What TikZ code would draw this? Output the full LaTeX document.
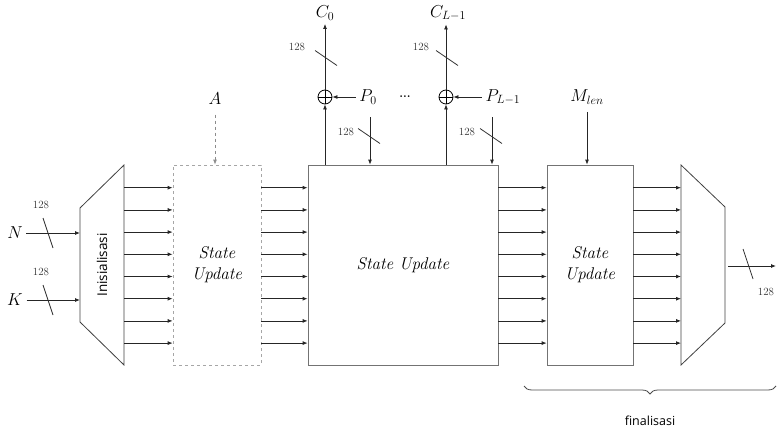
\documentclass[tikz,border=0pt]{standalone}
\usepackage{fontspec}
\newfontfamily\sansf{Open Sans}
\usetikzlibrary{arrows.meta,decorations.pathreplacing}

\tikzset{
  flecha/.style={-{Latex[length=5pt,width=4pt]}, black!85},
  bloque/.style={draw=black!55, fill=white, minimum width=#1, minimum height=200,
                 inner sep=0pt, align=center, font=\fontsize{17}{21}\selectfont\itshape},
  trapecio/.style={draw=black!75, line join=miter},
  xor/.style={draw, circle, minimum size=14, inner sep=0pt,
              path picture={\draw (path picture bounding box.north) -- (path picture bounding box.south)
                                  (path picture bounding box.west) -- (path picture bounding box.east);}},
  bits/.style={font=\fontsize{11}{12}\selectfont, inner sep=0pt, black!80}
}
% marcas de bus (128 bits)
\newcommand{\corteh}[2]{\draw[black!80] (#1-5,#2-15) -- (#1+5,#2+15);}
\newcommand{\cortev}[2]{\draw[black!80] (#1-11,#2-7.5) -- (#1+11,#2+7.5);}

\begin{document}
\begin{tikzpicture}[x=1pt, y=-1pt, line width=0.8pt, font=\fontsize{17}{19}\selectfont]
  \useasboundingbox (0,0) rectangle (784,436);

  % bloques
  \draw[trapecio] (80,208) -- (124,165) -- (124,365) -- (80,322) -- cycle;
  \coordinate (iniL) at (80,265);
  \coordinate (iniR) at (124,265);
  \node[rotate=90, font=\sansf\fontsize{13.5}{15}\selectfont] (ini) at (102,265) {Inisialisasi};
  \node[bloque=88, draw=black!35, dashed] (su1) at (217,265) {State\\Update};
  \node[bloque=190] (su2) at (403,265) {State Update};
  \node[bloque=86] (su3) at (590,265) {State\\Update};
  \draw[trapecio] (681,165) -- (725,207) -- (725,323) -- (681,365) -- cycle;
  \coordinate (finL) at (681,265);
  \coordinate (finR) at (725,266);

  % buses internos
  \foreach \a/\b in {iniR/su1.west, su1.east/su2.west, su2.east/su3.west, su3.east/finL}
    \foreach \k in {0,...,7}{
      \pgfmathsetmacro\yy{187.7+22.2*\k}
      \draw[flecha] (\a |- 0,\yy) -- (\b |- 0,\yy);
    }

  % entradas N y K
  \foreach \n/\py in {N/233, K/300}{
    \node (\n) at (15,\py) {$\n$};
    \draw[flecha] (\n.east) -- (\n.east -| iniL);
    \corteh{48}{\py}
    \node[bits] (b\n) at (41,\py-28) {128};
  }

  % dato asociado
  \node (A) at (215,99) {$A$};
  \draw[flecha, dashed, black!45] (A.south) ++(0,6) -- (A |- su1.north);

  % cifrado
  \node[xor] (x0) at (325,97) {};
  \node[xor] (x1) at (446,97) {};
  \node (C0) at (325,13) {$C_0$};
  \node (C1) at (448,13) {$C_{L-1}$};
  \node (P0) at (368,97) {$P_0$};
  \node (P1) at (503,97) {$P_{L-1}$};
  \node[font=\fontsize{12}{14}\bfseries] (pts) at (405,97) {...};
  \coordinate (p0in) at (370,117);
  \coordinate (p1in) at (492,117);
  \foreach \x/\c/\p/\e in {x0/C0/P0/p0in, x1/C1/P1/p1in}{
    \draw[flecha] (su2.north -| \x) -- (\x.south);
    \draw[flecha] (\x.north) -- (\x |- \c.south);
    \draw[flecha] (\p.west) -- (\x.east);
    \draw[flecha] (\e) -- (\e |- su2.north);
  }
  \cortev{326}{58} \cortev{447}{58}
  \cortev{369}{136} \cortev{491}{136}
  \node[bits] (b1) at (297,47) {128};
  \node[bits] (b2) at (421,47) {128};
  \node[bits] (b3) at (346,132) {128};
  \node[bits] (b4) at (467,132) {128};

  % longitud del mensaje
  \node (M) at (587,97) {$M_{len}$};
  \draw[flecha] (M.south) ++(0,4) -- (M.south |- su3.north);

  % salida
  \coordinate (sal) at (776,266);
  \draw[flecha] (finR) ++(3,0) -- (sal);
  \corteh{748}{264}
  \node[bits] (b5) at (766,292) {128};

  % finalisasi
  \draw[black!70, decorate, decoration={brace, amplitude=8pt}] (776,386) -- (524,386);
  \node[font=\sansf\fontsize{12.5}{14}\selectfont] (fin) at (650,421) {finalisasi};
\end{tikzpicture}
\end{document}
